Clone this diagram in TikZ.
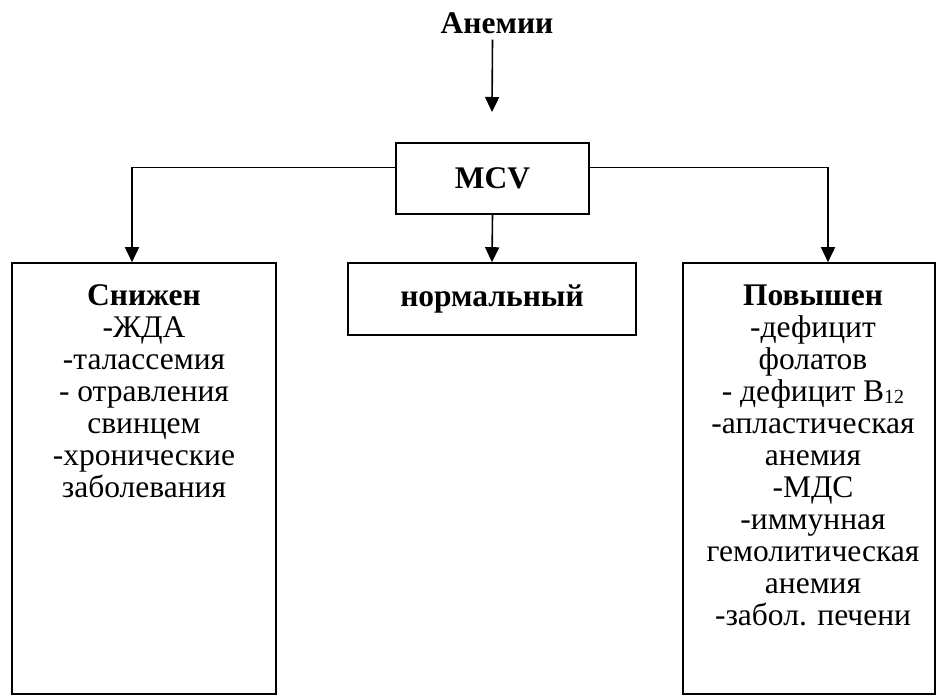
\documentclass[tikz,border=0pt]{standalone}
\usepackage{fontspec}
\setmainfont{Liberation Serif}
\usepackage{tikz}
\usetikzlibrary{arrows.meta}

\begin{document}
\begin{tikzpicture}[x=1pt,y=-1pt,
		box/.style={draw=black,line width=1.6pt,inner sep=0pt},
		label/.style={inner sep=0pt,align=center,font=\fontsize{31.5}{32}\selectfont},
		bold/.style={label,font=\fontsize{31.5}{32}\selectfont\bfseries},
		conn/.style={black,line width=1.6pt,-{Triangle[width=14pt,length=15pt]}}]
		\useasboundingbox (0,0) rectangle (937,696);
		\node [bold] (anem) at (497,23) {Анемии};
		\coordinate (topend) at (492,112);
		\node [box,minimum width=193pt,minimum height=71pt,bold] (mcv) at (492.5,178.5) {MCV};
		\node [box,minimum width=288pt,minimum height=72pt,bold] (norm) at (492,299) {нормальный};
		\node [box,minimum width=264pt,minimum height=431pt] (low) at (144,478.5) {};
		\node [box,minimum width=252pt,minimum height=431pt] (high) at (809,478.5) {};
		\node [label,anchor=north] (lowtxt) at ([yshift=-22pt]low.north) {\textbf{Снижен}\\-ЖДА\\-талассемия\\- отравления\\свинцем\\-хронические\\заболевания};
		\node [label,anchor=north] (hightxt) at ([yshift=-22pt,xshift=4pt]high.north) {\textbf{Повышен}\\-дефицит\\фолатов\\- дефицит B\raisebox{-2pt}{\fontsize{20}{20}\selectfont 12}\\-апластическая\\анемия\\-МДС\\-иммунная\\гемолитическая\\анемия\\-забол. печени};
		% connectors
		\draw [conn] ([yshift=-6pt]anem.south -| mcv.north) -- (topend);
		\draw [conn] ([yshift=11pt]mcv.west) -| ([xshift=-12pt]low.north);
		\draw [conn] ([yshift=11pt]mcv.east) -| ([xshift=19pt]high.north);
		\draw [conn] (mcv.south) -- (norm.north);
\end{tikzpicture}
\end{document}
